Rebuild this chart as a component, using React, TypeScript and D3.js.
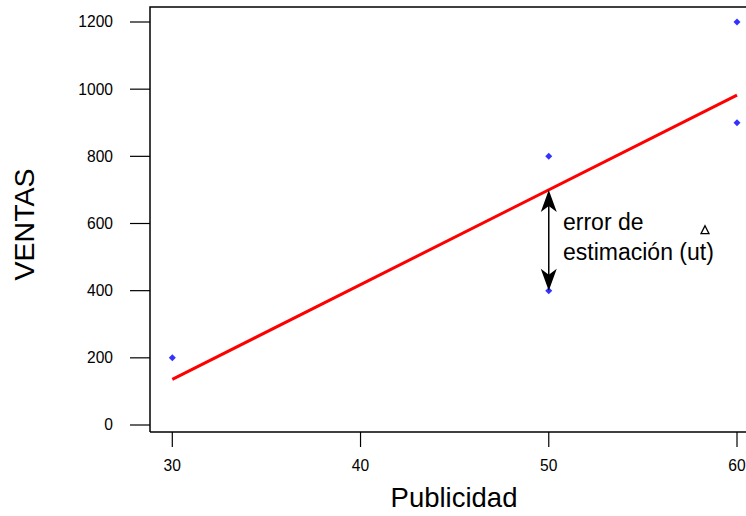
import React from 'react';
import * as d3 from 'd3';

// data
const publicidad = [30, 50, 50, 60, 60];
const ventas = [200, 800, 400, 1200, 900];
const fitLine: [number, number][] = [[30, 136], [60, 982]];
const xTicks = [30, 40, 50, 60];
const yTicks = [0, 200, 400, 600, 800, 1000, 1200];
const errorArrow = { x: 50, from: 700, to: 400 };
const strayMark = { x: 58.3, y: 580 };

const W = 746;
const H = 516;

const x = d3.scaleLinear().domain([30, 60]).range([172.3, 737]);
const y = d3.scaleLinear().domain([0, 1200]).range([425, 22]);

const font = 'Arial, "Liberation Sans", sans-serif';

// barbed arrowhead pointing up, tip at 0,0
const headUp = 'M0,0 L8,22 L0,16 L-8,22 Z';

const App = () => {
  const line = d3.line<[number, number]>()
    .x(d => x(d[0]))
    .y(d => y(d[1]));

  const ax = x(errorArrow.x);
  const ay1 = y(errorArrow.from);
  const ay2 = y(errorArrow.to);

  return (
    <svg width={W} height={H} style={{ position: 'absolute', left: 0, top: 0, background: '#fff' }}
      fontFamily={font}>
      {/* box */}
      <path d={`M150,432 L150,7 L${W + 2},7`} fill="none" stroke="#000" strokeWidth={1.5} />
      <line x1={150} x2={W + 2} y1={432} y2={432} stroke="#000" strokeWidth={1.5} />

      {/* y axis */}
      {yTicks.map(t => (
        <g key={t}>
          <line x1={130} x2={150} y1={y(t)} y2={y(t)} stroke="#000" strokeWidth={1.2} />
          <text x={113} y={y(t)} dy="0.35em" textAnchor="end" fontSize={15.6}>{t}</text>
        </g>
      ))}

      {/* x axis */}
      {xTicks.map(t => (
        <g key={t}>
          <line x1={x(t)} x2={x(t)} y1={432} y2={447} stroke="#000" strokeWidth={1.2} />
          <text x={x(t)} y={471} textAnchor="middle" fontSize={15.6}>{t}</text>
        </g>
      ))}

      <text x={454} y={507} textAnchor="middle" fontSize={27.5}>Publicidad</text>
      <text transform="translate(34,224.5) rotate(-90)" textAnchor="middle" fontSize={28.5}>VENTAS</text>

      {/* regression line */}
      <path d={line(fitLine) || ''} fill="none" stroke="#f00" strokeWidth={3} />

      {/* points */}
      {publicidad.map((p, i) => (
        <path key={i} transform={`translate(${x(p)},${y(ventas[i])})`}
          d="M0,-3.5 L3.5,0 L0,3.5 L-3.5,0 Z" fill="#3333ff" />
      ))}

      {/* error arrow */}
      <line x1={ax} x2={ax} y1={ay1 + 10} y2={ay2 - 10} stroke="#000" strokeWidth={1.5} />
      <path transform={`translate(${ax},${ay1})`} d={headUp} fill="#000" />
      <path transform={`translate(${ax},${ay2}) scale(1,-1)`} d={headUp} fill="#000" />
      <text x={563} y={230} fontSize={23}>error de</text>
      <text x={563} y={260} fontSize={23}>estimación (ut)</text>

      <path transform={`translate(${x(strayMark.x)},${y(strayMark.y)})`}
        d="M0,-4.5 L4,3.5 L-4,3.5 Z" fill="none" stroke="#000" strokeWidth={1.3} />
    </svg>
  );
};

export default App;
